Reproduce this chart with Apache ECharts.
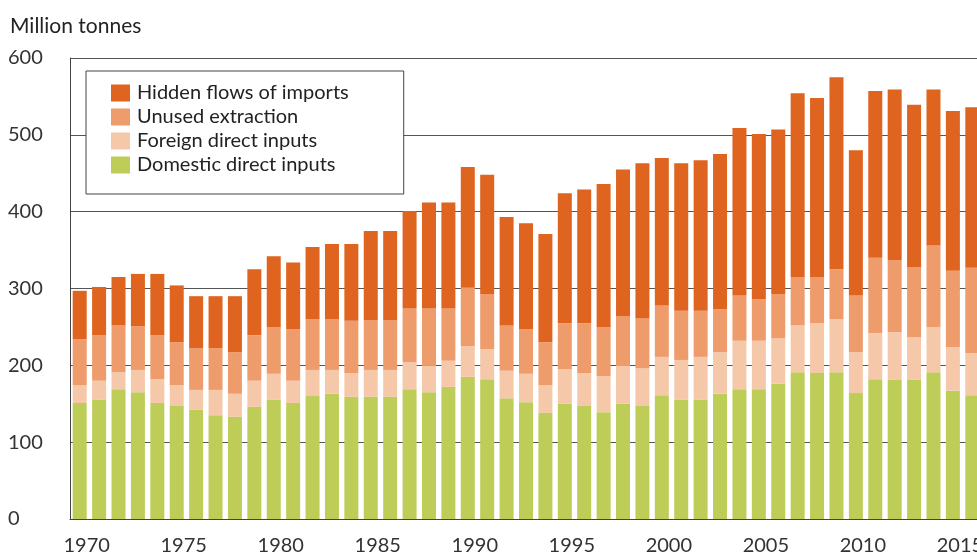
<!DOCTYPE html>
<html>
<head>
<meta charset="utf-8">
<script src="https://cdn.jsdelivr.net/npm/echarts@6/dist/echarts.min.js"></script>
<style>
  html, body { margin: 0; padding: 0; background: #fff; }
  #chart { width: 977px; height: 557px; }
</style>
</head>
<body>
<div id="chart"></div>
<script>
// years on the x axis
const years = []
for (let y = 1970; y <= 2016; y++) years.push(String(y))

// million tonnes
const domestic = [151, 155, 169, 165, 151, 147, 142, 135, 133, 146,
  155, 151, 160, 163, 159, 159, 159, 169, 165, 172,
  185, 182, 157, 152, 138, 150, 147, 139, 150, 147,
  161, 155, 155, 163, 169, 169, 176, 191, 190, 191,
  164, 182, 181, 181, 191, 167, 161]
const foreign = [23, 25, 22, 29, 31, 27, 26, 33, 30, 34,
  34, 29, 34, 31, 31, 35, 35, 35, 35, 34,
  40, 39, 36, 37, 36, 45, 43, 47, 49, 49,
  50, 52, 56, 54, 63, 63, 59, 61, 65, 69,
  53, 60, 62, 56, 59, 57, 55]
const unused = [60, 59, 61, 57, 57, 56, 54, 54, 54, 59,
  61, 67, 66, 66, 68, 65, 65, 70, 74, 68,
  76, 72, 59, 58, 56, 60, 65, 64, 65, 65,
  67, 64, 60, 56, 59, 54, 58, 63, 60, 65,
  74, 98, 94, 91, 106, 99, 111]
const hidden = [63, 63, 63, 68, 80, 74, 68, 68, 73, 86,
  92, 87, 94, 98, 100, 116, 116, 127, 138, 138,
  157, 155, 141, 138, 141, 169, 174, 186, 191, 202,
  192, 192, 196, 202, 218, 215, 214, 239, 233, 250,
  189, 217, 222, 211, 203, 208, 209]

const font = 'Lato, "Open Sans", sans-serif'
const chart = echarts.init(document.getElementById('chart'))

function bar(name, data, color) {
  return {
    name: name,
    type: 'bar',
    stack: 'total',
    barWidth: 14,
    itemStyle: { color: color },
    emphasis: { disabled: true },
    data: data
  }
}

const option = {
  backgroundColor: '#fff',
  animation: false,
  textStyle: { fontFamily: font },
  title: {
    text: 'Million tonnes',
    left: 5,
    top: 11,
    textStyle: { fontSize: 21, fontWeight: 'normal', color: '#222', fontFamily: font }
  },
  // plot runs past the right edge, last bar is cut off
  grid: { left: 70, width: 912, top: 58, bottom: 38, outerBoundsMode: 'none', containLabel: false },
  legend: {
    orient: 'vertical',
    left: 86,
    top: 71,
    padding: [12, 55, 19, 25],
    itemWidth: 19,
    itemHeight: 17,
    itemGap: 4,
    backgroundColor: '#fff',
    borderColor: '#444',
    borderWidth: 1,
    icon: 'rect',
    textStyle: { fontSize: 20, color: '#222', fontFamily: font, padding: [0, 0, 0, 2] },
    data: ['Hidden flows of imports', 'Unused extraction', 'Foreign direct inputs', 'Domestic direct inputs']
  },
  xAxis: {
    type: 'category',
    data: years,
    axisTick: { show: false },
    axisLine: { lineStyle: { color: '#444', width: 1 } },
    axisLabel: {
      interval: function (i) { return i % 5 === 0 },
      margin: 17,
      fontSize: 20,
      color: '#333',
      padding: [0, 0, 0, 14]
    }
  },
  yAxis: {
    type: 'value',
    min: 0,
    max: 600,
    interval: 100,
    axisLine: { show: true, lineStyle: { color: '#444', width: 1 } },
    axisTick: { show: false },
    splitLine: { lineStyle: { color: '#555', width: 1 } },
    axisLabel: {
      align: 'left',
      margin: 62,
      fontSize: 20,
      color: '#333'
    }
  },
  series: [
    bar('Domestic direct inputs', domestic, '#bdcd58'),
    bar('Foreign direct inputs', foreign, '#f6c8aa'),
    bar('Unused extraction', unused, '#ee9c6b'),
    bar('Hidden flows of imports', hidden, '#de641f')
  ]
}
chart.setOption(option)
</script>
</body>
</html>
